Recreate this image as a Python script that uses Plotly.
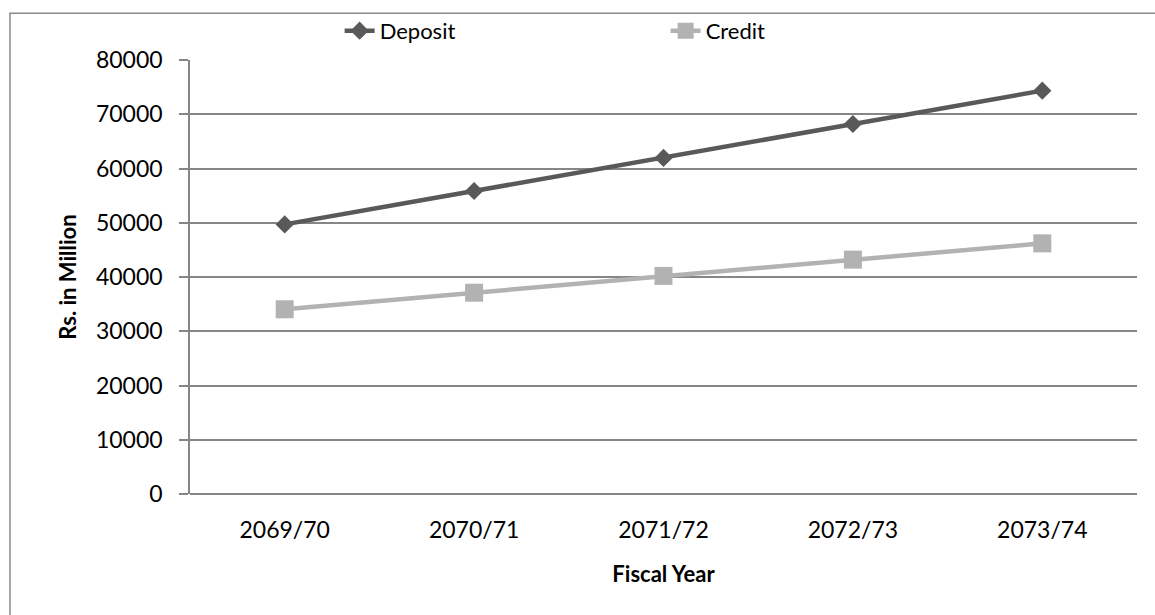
import plotly.graph_objects as go

# Fiscal years and balances (Rs. in Million)
fiscal_years = ["2069/70", "2070/71", "2071/72", "2072/73", "2073/74"]
deposit = [49700, 55850, 61950, 68200, 74350]
credit = [34050, 37100, 40200, 43200, 46200]
y_ticks = [0, 10000, 20000, 30000, 40000, 50000, 60000, 70000, 80000]
y_tick_text = ["0", "10000", "20000", "30000", "40000", "50000", "60000", "70000", "80000"]

FONT = "Lato, 'Open Sans', sans-serif"
GRID = "#868686"
FS = 23

fig = go.Figure()
fig.add_trace(go.Scatter(
    x=fiscal_years, y=deposit, name="Deposit", mode="lines+markers",
    line=dict(color="#595959", width=4.5),
    marker=dict(symbol="diamond", size=14, color="#595959"),
))
fig.add_trace(go.Scatter(
    x=fiscal_years, y=credit, name="Credit", mode="lines+markers",
    line=dict(color="#b2b2b2", width=4.5),
    marker=dict(symbol="square", size=18, color="#b2b2b2"),
))

# outer chart frame
fig.add_shape(type="rect", xref="paper", yref="paper",
              x0=-0.1901, x1=1.05, y0=-0.40, y1=1.108,
              line=dict(color="#8a8a8a", width=1.5), fillcolor="rgba(0,0,0,0)",
              layer="below")

fig.update_layout(
    width=1155, height=615,
    margin=dict(l=190, r=18, t=60, b=121, autoexpand=False),
    paper_bgcolor="white", plot_bgcolor="white",
    font=dict(family=FONT, size=FS, color="black"),
    showlegend=True,
    legend=dict(orientation="h", x=0.158, y=1.067, xanchor="left", yanchor="middle",
                entrywidth=281, entrywidthmode="pixels",
                font=dict(size=FS - 1), bgcolor="rgba(0,0,0,0)"),
    xaxis=dict(
        type="category", range=[-0.5, 4.5],
        showgrid=False, showline=False, ticks="",
        tickfont=dict(size=FS), ticklabelstandoff=20,
        title=dict(text="<b>Fiscal Year</b>", font=dict(size=FS - 1), standoff=24),
    ),
    yaxis=dict(
        range=[0, 80000], tickvals=y_ticks, ticktext=y_tick_text,
        showgrid=True, gridcolor=GRID, gridwidth=1.5,
        zeroline=True, zerolinecolor=GRID, zerolinewidth=1.5,
        showline=True, linecolor=GRID, linewidth=1.5,
        ticks="outside", ticklen=9, tickcolor=GRID, tickwidth=1.5,
        tickfont=dict(size=FS), ticklabelstandoff=12,
        title=dict(text="<b>Rs. in Million</b>", font=dict(size=FS - 1), standoff=13),
    ),
)

fig.write_html("out.html")
